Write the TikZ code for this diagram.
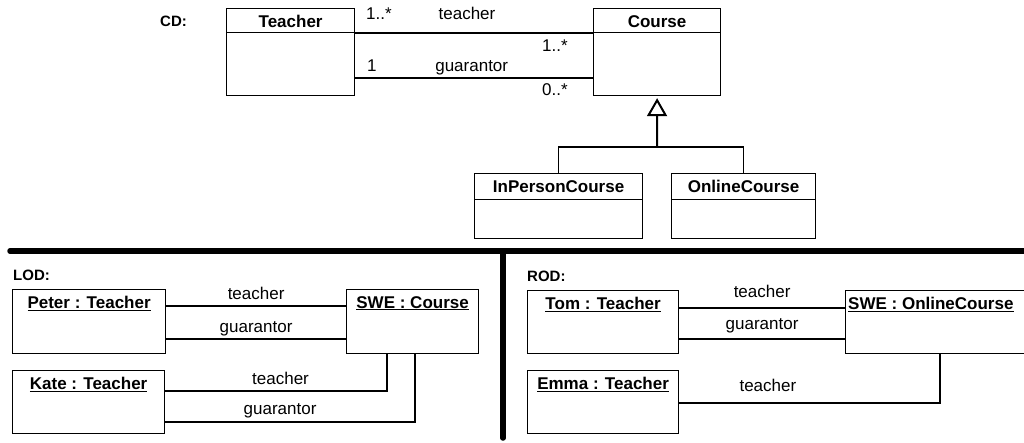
\documentclass[tikz,border=0pt]{standalone}
\usepackage{fontspec}
\setmainfont{Liberation Sans}
\usetikzlibrary{positioning, arrows.meta, calc}
\tikzset{
  clsbox/.style={
    draw, line width=1.2pt, anchor=north west,
    minimum height=87pt, inner sep=0pt,
    path picture={\draw[line width=1.2pt] ([yshift=-#1]path picture bounding box.north west) -- ([yshift=-#1]path picture bounding box.north east);}
  },
  clsbox/.default=24pt,
  objbox/.style={
    draw, line width=1.2pt, anchor=north west,
    minimum height=63pt, inner sep=0pt
  },
  ttl/.style={font=\fontsize{17}{20}\selectfont\bfseries, inner sep=0pt, anchor=north, yshift=-7pt},
  assoc/.style={line width=1.2pt},
  lbl/.style={font=\fontsize{17}{20}\selectfont, inner sep=0pt, text depth=0pt},
  diag/.style={font=\fontsize{15}{18}\selectfont\bfseries, anchor=base west, inner sep=0pt},
  sep/.style={line width=5.5pt, line cap=round}
}

\begin{document}
\begin{tikzpicture}[
  x=1pt, y=-1pt,
  gen/.style={line width=2pt},
  branch/.style={line width=1.2pt},
]
\useasboundingbox (0,0) rectangle (1024,443);
\clip (0,0) rectangle (1024,443);

% Class diagram
\node[diag] (cd) at (160,27) {CD:};
\node[clsbox, minimum width=128pt, label={[ttl]north:Teacher}] (teacher) at (226,8) {};
\node[clsbox, minimum width=127pt, label={[ttl]north:Course}] (course) at (593,8) {};
\node[clsbox=26pt, minimum width=168pt, minimum height=65pt, label={[ttl]north:InPersonCourse}] (inperson) at (474,173) {};
\node[clsbox=26pt, minimum width=144pt, minimum height=65pt, label={[ttl]north:OnlineCourse}] (online) at (671,173) {};

% Associations
\draw[assoc] (teacher.east |- {0,33}) -- (course.west |- {0,33})
  node[lbl, pos=0.10, above=13pt] (tm1) {1..*}
  node[lbl, pos=0.47, above=13pt] (tname) {teacher}
  node[lbl, pos=0.84, below=6pt] (tm2) {1..*};
\draw[assoc] (teacher.east |- {0,78}) -- (course.west |- {0,78})
  node[lbl, pos=0.07, above=6pt] (gm1) {1}
  node[lbl, pos=0.49, above=6pt] (gname) {guarantor}
  node[lbl, pos=0.84, below=5pt] (gm2) {0..*};

% Generalization
\coordinate (gj) at (657,147);
\draw[gen, -{Triangle[open, length=18pt, width=20pt]}, shorten >=2pt] (gj) -- (course.south);
\draw[branch] (inperson.north) |- (gj) -| (online.north);

% Separators
\draw[sep] (10,251) -- (1030,251);
\draw[sep] (503,251) -- (503,438);

% Left object diagram
\node[diag] (lod) at (13,280) {LOD:};
\node[objbox, minimum width=153pt, minimum height=64pt, label={[ttl]north:\underline{Peter : Teacher}}] (peter) at (12,289) {};
\node[objbox, minimum width=132pt, minimum height=64pt, label={[ttl]north:\underline{SWE : Course}}] (lswe) at (346,289) {};
\node[objbox, minimum width=152pt, label={[ttl]north:\underline{Kate : Teacher}}] (kate) at (12,370) {};

\draw[assoc] (peter.east |- {0,306}) -- (lswe.west |- {0,306}) node[lbl, midway, above=6pt] (lt1) {teacher};
\draw[assoc] (peter.east |- {0,339}) -- (lswe.west |- {0,339}) node[lbl, midway, above=6pt] (lg1) {guarantor};
\draw[assoc] (kate.east |- {0,391}) -| ({387,0} |- lswe.south) node[lbl, pos=0.26, above=6pt] (lt2) {teacher};
\draw[assoc] (kate.east |- {0,422}) -| ({415,0} |- lswe.south) node[lbl, pos=0.23, above=7pt] (lg2) {guarantor};

% Right object diagram
\node[diag] (rod) at (527,281) {ROD:};
\node[objbox, minimum width=151pt, label={[ttl]north:\underline{Tom : Teacher}}] (tom) at (527,290) {};
\node[objbox, minimum width=220pt, label={[ttl, anchor=north west, xshift=3pt]north west:\underline{SWE : OnlineCourse}}] (rswe) at (845,290) {};
\node[objbox, minimum width=151pt, label={[ttl]north:\underline{Emma : Teacher}}] (emma) at (527,370) {};

\draw[assoc] (tom.east |- {0,308}) -- (rswe.west |- {0,308}) node[lbl, midway, above=10pt] (rt1) {teacher};
\draw[assoc] (tom.east |- {0,339}) -- (rswe.west |- {0,339}) node[lbl, midway, above=9pt] (rg1) {guarantor};
\draw[assoc] (emma.east |- {0,403}) -| ({940,0} |- rswe.south) node[lbl, pos=0.17, above=11pt] (rt2) {teacher};

\end{tikzpicture}
\end{document}
